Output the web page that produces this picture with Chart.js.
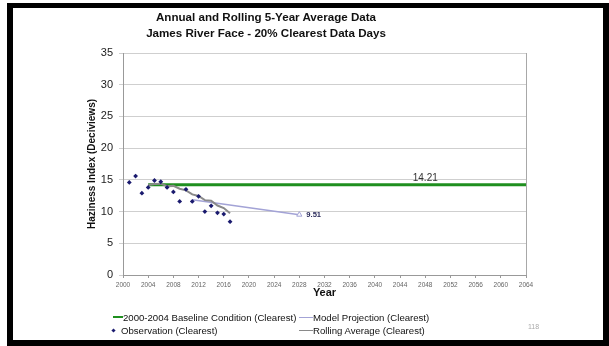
<!DOCTYPE html>
<html>
<head>
<meta charset="utf-8">
<script src="https://cdn.jsdelivr.net/npm/chart.js@4.4.0/dist/chart.umd.min.js"></script>
<style>
  body { margin: 0; background: #fff; font-family: "Liberation Sans", Arial, sans-serif; }
  #wrap { position: relative; width: 609px; height: 346px; overflow: hidden; }
  #frame { position: absolute; left: 7px; top: 3px; width: 590px; height: 332px; border: 6px solid #000; border-top-width: 5px; }
  #chart { position: absolute; left: 0; top: 0; }
  #title { position: absolute; left: 66px; top: 9px; width: 400px; text-align: center; font-weight: bold; font-size: 11.6px; line-height: 16px; color: #111; }
  .leg { position: absolute; font-size: 9.6px; color: #111; line-height: 12px; white-space: nowrap; }
  .leg i { display: inline-block; vertical-align: middle; position: relative; }
  #pagenum { position: absolute; left: 528px; top: 323px; font-size: 7px; color: #aaa; }
</style>
</head>
<body>
<div id="wrap">
  <canvas id="chart" width="609" height="346"></canvas>
  <div id="frame"></div>
  <div id="title">Annual and Rolling 5-Year Average Data<br>James River Face - 20% Clearest Data Days</div>
  <div class="leg" style="left:113px;top:312px"><i style="width:10px;height:2px;background:#1f8f1f;top:-1px"></i>2000-2004 Baseline Condition (Clearest)</div>
  <div class="leg" style="left:299px;top:312px"><i style="width:14px;height:1px;background:#a3a3d6;top:-1px"></i>Model Projection (Clearest)</div>
  <div class="leg" style="left:112px;top:325px"><i style="width:3px;height:3px;background:#1a1a6e;transform:rotate(45deg);margin-right:6px;top:-1px"></i>Observation (Clearest)</div>
  <div class="leg" style="left:299px;top:325px"><i style="width:14px;height:1px;background:#8a8a8a;top:-1px"></i>Rolling Average (Clearest)</div>
  <div id="pagenum">118</div>
</div>
<script>
// observations, 20% clearest days
var obsYears = [2001, 2002, 2003, 2004, 2005, 2006, 2007, 2008, 2009, 2010, 2011, 2012, 2013, 2014, 2015, 2016, 2017];
var obsValues = [14.6, 15.6, 12.9, 13.8, 14.9, 14.7, 13.8, 13.1, 11.6, 13.5, 11.6, 12.4, 10.0, 10.9, 9.8, 9.6, 8.4];

var rollYears = [2004, 2005, 2006, 2007, 2008, 2009, 2010, 2011, 2012, 2013, 2014, 2015, 2016, 2017];
var rollValues = [14.2, 14.35, 14.4, 14.0, 14.05, 13.6, 13.35, 12.7, 12.45, 11.8, 11.7, 10.95, 10.55, 9.75];

var modelYears = [2011, 2028];
var modelValues = [11.85, 9.51];

var baseYears = [2004, 2064];
var baseValues = [14.21, 14.21];
var baseLabelYear = 2048;

var xTicks = {min: 2000, max: 2064, step: 4};
var yTicks = {min: 0, max: 35, step: 5};

function pts(xs, ys) {
  return xs.map(function(x, i) { return {x: x, y: ys[i]}; });
}

var extras = {
  id: 'extras',
  beforeDatasetsDraw: function(chart) {
    var ctx = chart.ctx, a = chart.chartArea;
    ctx.save();
    ctx.strokeStyle = '#a8a8a8';
    ctx.lineWidth = 1;
    ctx.beginPath();
    ctx.moveTo(Math.round(a.right) + 0.5, a.top);
    ctx.lineTo(Math.round(a.right) + 0.5, a.bottom);
    ctx.stroke();
    ctx.restore();
  },
  afterDatasetsDraw: function(chart) {
    var ctx = chart.ctx, x = chart.scales.x, y = chart.scales.y;
    ctx.save();
    ctx.textBaseline = 'bottom';
    ctx.textAlign = 'center';
    ctx.font = '10px "Liberation Sans", Arial, sans-serif';
    ctx.fillStyle = '#333';
    ctx.fillText(baseValues[0].toFixed(2), x.getPixelForValue(baseLabelYear), y.getPixelForValue(baseValues[0]) - 2);
    var last = modelValues.length - 1;
    ctx.textAlign = 'left';
    ctx.textBaseline = 'middle';
    ctx.font = 'bold 7.6px "Liberation Sans", Arial, sans-serif';
    ctx.fillStyle = '#2a2a5a';
    ctx.fillText(modelValues[last].toFixed(2), x.getPixelForValue(modelYears[last]) + 7, y.getPixelForValue(modelValues[last]));
    ctx.restore();
  }
};

new Chart(document.getElementById('chart'), {
  type: 'scatter',
  data: {
    datasets: [
      {
        label: 'Observation (Clearest)',
        data: pts(obsYears, obsValues),
        pointStyle: 'rectRot',
        pointRadius: 2.4,
        backgroundColor: '#1a1a6e',
        borderColor: '#1a1a6e',
        borderWidth: 0,
        order: 0
      },
      {
        label: 'Rolling Average (Clearest)',
        data: pts(rollYears, rollValues),
        showLine: true,
        borderColor: '#8a8a8a',
        borderWidth: 2,
        pointRadius: 0,
        order: 1
      },
      {
        label: 'Model Projection (Clearest)',
        data: pts(modelYears, modelValues),
        showLine: true,
        borderColor: '#a3a3d6',
        borderWidth: 1.5,
        pointStyle: 'triangle',
        pointRadius: [0, 3],
        backgroundColor: '#fff',
        pointBorderColor: '#a3a3d6',
        pointBorderWidth: 1,
        order: 2
      },
      {
        label: '2000-2004 Baseline Condition (Clearest)',
        data: pts(baseYears, baseValues),
        showLine: true,
        borderColor: '#1f8f1f',
        borderWidth: 3,
        pointRadius: 0,
        order: 3
      }
    ]
  },
  options: {
    responsive: false,
    animation: false,
    layout: { padding: { left: 86, top: 53, right: 83, bottom: 46 } },
    plugins: {
      legend: { display: false },
      title: { display: false },
      tooltip: { enabled: false }
    },
    scales: {
      x: {
        type: 'linear',
        min: xTicks.min,
        max: xTicks.max,
        afterFit: function(s) { s.height = 25; },
        ticks: {
          stepSize: xTicks.step,
          autoSkip: false,
          maxRotation: 0,
          padding: 3,
          color: '#666',
          font: { size: 6.5, family: '"Liberation Sans", Arial, sans-serif' },
          callback: function(v) { return v; }
        },
        grid: { drawOnChartArea: false, tickLength: 3, color: '#999' },
        border: { color: '#999' },
        title: {
          display: true,
          text: 'Year',
          color: '#111',
          padding: 0,
          font: { size: 11, weight: 'bold', family: '"Liberation Sans", Arial, sans-serif' }
        }
      },
      y: {
        min: yTicks.min,
        max: yTicks.max,
        afterFit: function(s) { s.width = 37; },
        ticks: {
          stepSize: yTicks.step,
          padding: 6,
          color: '#222',
          font: { size: 11, family: '"Liberation Sans", Arial, sans-serif' }
        },
        grid: { color: '#cfcfcf', tickLength: 4 },
        border: { color: '#999' },
        title: {
          display: true,
          text: 'Haziness Index (Deciviews)',
          color: '#111',
          padding: 0,
          font: { size: 10, weight: 'bold', family: '"Liberation Sans", Arial, sans-serif' }
        }
      }
    }
  },
  plugins: [extras]
});
</script>
</body>
</html>
